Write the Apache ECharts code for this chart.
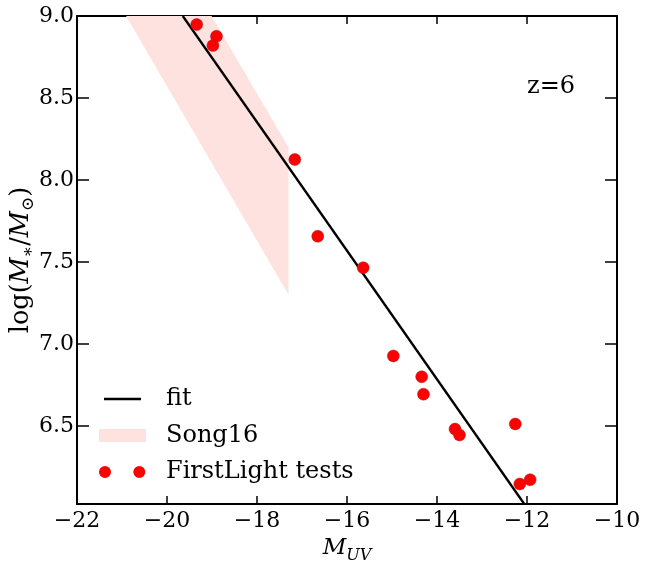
<!DOCTYPE html>
<html><head><meta charset="utf-8">
<script src="https://cdn.jsdelivr.net/npm/echarts@6/dist/echarts.min.js"></script>
<style>html,body{margin:0;padding:0;background:#fff}#c{width:646px;height:562px}</style>
</head><body><div id="c"></div>
<script>
// ---- data ----
const xTicks = [-22, -20, -18, -16, -14, -12, -10];
const yTicks = [6.5, 7.0, 7.5, 8.0, 8.5, 9.0];
const yMin = 6.024;
// FirstLight tests (M_UV, log M*)
const flX = [-19.34, -18.90, -18.98, -17.16, -16.65, -15.64, -14.97, -14.34, -14.30, -13.60, -13.50, -12.26, -12.16, -11.93];
const flY = [8.948, 8.876, 8.820, 8.125, 7.657, 7.465, 6.927, 6.800, 6.694, 6.481, 6.445, 6.512, 6.146, 6.172];
// fit line end points
const fitX = [-19.65, -12.06];
const fitY = [9.0, 6.024];
// Song16 band outline
const songX = [-20.91, -19.01, -17.30, -17.30];
const songY = [9.0, 9.0, 8.20, 7.30];

const SERIF = 'DejaVu Serif';
const pink = '#fee2df';
const minus = v => String(v).replace('-', '\u2212');

const chart = echarts.init(document.getElementById('c'), null, {renderer: 'canvas'});

function xAxisCfg(pos, labels) {
  return {
    type: 'value', position: pos, min: xTicks[0], max: xTicks[xTicks.length - 1], interval: xTicks[1] - xTicks[0],
    axisLine: {show: true, onZero: false, lineStyle: {color: '#000', width: 2}},
    axisTick: {show: true, inside: true, length: 8, lineStyle: {color: '#000', width: 1.5}},
    axisLabel: {show: labels, formatter: minus, fontFamily: SERIF, fontSize: 22, color: '#000', margin: 6},
    splitLine: {show: false}
  };
}
function yAxisCfg(pos, labels) {
  return {
    type: 'value', position: pos, min: yMin, max: yTicks[yTicks.length - 1], splitNumber: 5,
    axisLine: {show: true, onZero: false, lineStyle: {color: '#000', width: 2}},
    axisTick: {show: true, inside: true, length: 12, lineStyle: {color: '#000', width: 1.5}},
    axisLabel: {show: labels, showMinLabel: false, fontFamily: SERIF, fontSize: 22, color: '#000', margin: 3,
      formatter: v => yTicks.some(t => Math.abs(t - v) < 1e-6) ? v.toFixed(1) : ''},
    splitLine: {show: false}
  };
}

const xa = xAxisCfg('bottom', true);
xa.name = '{i|M}{s|UV}';
xa.nameLocation = 'middle';
xa.nameGap = 29;
xa.nameTextStyle = {
  rich: {
    i: {fontFamily: SERIF, fontStyle: 'italic', fontSize: 23, color: '#000', lineHeight: 30},
    s: {fontFamily: SERIF, fontStyle: 'italic', fontSize: 16, color: '#000', lineHeight: 16, verticalAlign: 'bottom'}
  }
};
const ya = yAxisCfg('left', true);
ya.name = '{n|log(}{i|M}{s|\u2217}{n|/}{i|M}{s|\u2299}{n|)}';
ya.nameLocation = 'middle';
ya.nameMoveOverlap = false;
ya.nameGap = 40;
ya.nameTextStyle = {
  rich: {
    n: {fontFamily: SERIF, fontSize: 25.5, color: '#000', lineHeight: 32},
    i: {fontFamily: SERIF, fontStyle: 'italic', fontSize: 25.5, color: '#000', lineHeight: 32},
    s: {fontFamily: SERIF, fontSize: 17, color: '#000', lineHeight: 17, verticalAlign: 'bottom'}
  }
};

const bounds = 'M0,0M62,14';
const option = {
  animation: false,
  backgroundColor: '#fff',
  grid: {left: 77, right: 29, top: 16, bottom: 58, containLabel: false, outerBoundsMode: 'none'},
  xAxis: [xa, xAxisCfg('top', false)],
  yAxis: [ya, yAxisCfg('right', false)],
  legend: {
    orient: 'vertical', left: 94, top: 382, itemWidth: 62, itemHeight: 14, itemGap: 12.5,
    selectedMode: false,
    textStyle: {fontFamily: SERIF, fontSize: 24, color: '#000', lineHeight: 22},
    data: [
      {name: 'fit', icon: 'path://' + bounds + 'M5,5.8H42V8.2H5Z', itemStyle: {borderWidth: 0}},
      {name: 'Song16', icon: 'path://' + bounds + 'M0,0.5H47V13.5H0Z', itemStyle: {borderWidth: 0}},
      {name: 'FirstLight tests', icon: 'path://' + bounds + 'M0,7a6,6 0 1,0 12,0a6,6 0 1,0 -12,0ZM34.3,7a6,6 0 1,0 12,0a6,6 0 1,0 -12,0Z', itemStyle: {borderWidth: 0}}
    ]
  },
  graphic: [{
    type: 'text', left: 527, top: 75,
    style: {text: 'z=6', font: '24px "DejaVu Serif"', fill: '#000'}
  }],
  series: [
    {
      name: 'Song16', type: 'custom', z: 1,
      itemStyle: {color: pink},
      data: [[songX[0], songY[0]]],
      renderItem: function (params, api) {
        const pts = songX.map((x, i) => api.coord([x, songY[i]]));
        return {type: 'polygon', shape: {points: pts}, style: {fill: pink}};
      }
    },
    {
      name: 'fit', type: 'line', z: 3, symbol: 'none', color: '#000',
      lineStyle: {color: '#000', width: 2.3},
      data: fitX.map((x, i) => [x, fitY[i]])
    },
    {
      name: 'FirstLight tests', type: 'scatter', z: 4, symbol: 'circle', symbolSize: 12,
      itemStyle: {color: '#ff0000', borderColor: '#9a2020', borderWidth: 0.5, opacity: 1},
      data: flX.map((x, i) => [x, flY[i]])
    }
  ]
};
chart.setOption(option);
</script>
</body></html>
